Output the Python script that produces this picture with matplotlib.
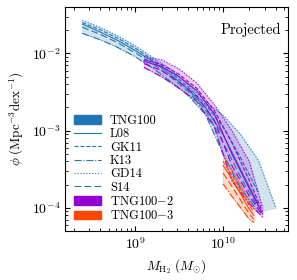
import numpy as np
import matplotlib
matplotlib.use("Agg")
import matplotlib.pyplot as plt
from matplotlib.patches import Patch
from matplotlib.lines import Line2D

plt.rcParams["font.family"] = "serif"
plt.rcParams["font.serif"] = ["cmr10", "DejaVu Serif"]
plt.rcParams["mathtext.fontset"] = "cm"
plt.rcParams["axes.formatter.use_mathtext"] = True

# log10 M_H2 grids and log10 phi per H2 model
models = ["L08", "GK11", "K13", "GD14", "S14"]
styles = ["-", "--", "-.", ":", (0, (6, 3))]

m_tng100 = [8.4, 8.6, 8.8, 9.0, 9.2, 9.4, 9.6, 9.8, 10.0, 10.2, 10.4, 10.6]
phi_tng100 = {
    "L08":  [-1.62, -1.72, -1.83, -1.96, -2.10, -2.27, -2.46, -2.70, -3.05, -3.50, -3.95, np.nan],
    "GK11": [-1.60, -1.69, -1.80, -1.93, -2.08, -2.24, -2.43, -2.66, -2.95, -3.35, -3.80, np.nan],
    "K13":  [-1.74, -1.82, -1.92, -2.04, -2.19, -2.36, -2.54, -2.79, -3.30, -3.75, -4.05, np.nan],
    "GD14": [-1.57, -1.66, -1.77, -1.90, -2.05, -2.20, -2.40, -2.62, -2.80, -3.05, -3.38, -4.00],
    "S14":  [-1.66, -1.75, -1.86, -1.99, -2.13, -2.30, -2.49, -2.73, -3.15, -3.60, -4.00, np.nan],
}

m_tng100_2 = [9.1, 9.3, 9.5, 9.7, 9.9, 10.1, 10.3, 10.45]
phi_tng100_2 = {
    "L08":  [-2.10, -2.17, -2.30, -2.48, -2.78, -3.30, -3.75, -4.08],
    "GK11": [-2.08, -2.14, -2.27, -2.45, -2.74, -3.15, -3.65, -4.05],
    "K13":  [-2.18, -2.30, -2.45, -2.62, -2.95, -3.65, -3.95, -4.12],
    "GD14": [-2.04, -2.08, -2.20, -2.38, -2.66, -3.00, -3.40, -4.00],
    "S14":  [-2.13, -2.22, -2.37, -2.55, -2.86, -3.45, -3.85, -4.10],
}

m_tng100_3 = [10.0, 10.1, 10.2, 10.3, 10.35]
phi_tng100_3 = {
    "L08":  [-3.45, -3.62, -3.82, -4.02, -4.10],
    "GK11": [-3.40, -3.57, -3.77, -3.97, -4.05],
    "K13":  [-3.69, -3.85, -4.00, -4.15, -4.19],
    "GD14": [-3.32, -3.50, -3.70, -3.92, -4.00],
    "S14":  [-3.55, -3.72, -3.90, -4.08, -4.15],
}

sims = [
    ("TNG100", m_tng100, phi_tng100, "#1f77b4"),
    (r"TNG100$-$2", m_tng100_2, phi_tng100_2, "#9400d3"),
    (r"TNG100$-$3", m_tng100_3, phi_tng100_3, "#ff4500"),
]

fig = plt.figure(figsize=(2.97, 2.80), dpi=100)
ax = fig.add_axes([0.219, 0.175, 0.751, 0.80])

for name, m, phi, col in sims:
    x = 10 ** np.array(m)
    arr = np.array([phi[k] for k in models])
    lo = 10 ** np.nanmin(arr, axis=0)
    hi = 10 ** np.nanmax(arr, axis=0)
    ax.fill_between(x, lo, hi, facecolor=col, alpha=0.2, edgecolor=col, lw=0.6)
    for k, ls in zip(models, styles):
        ax.plot(x, 10 ** np.array(phi[k]), color=col, ls=ls, lw=0.8)

ax.set_xscale("log")
ax.set_yscale("log")
ax.set_xlim(1.6e8, 5.5e10)
ax.set_ylim(5e-5, 4e-2)
ax.tick_params(which="both", direction="in", top=True, right=True, labelsize=10)
ax.set_xlabel(r"$M_{\rm H_2}\ (M_{\odot})$", fontsize=9.5)
ax.set_ylabel(r"$\phi\ (\mathrm{Mpc^{-3}dex^{-1}})$", fontsize=9.5)
ax.text(0.97, 0.93, "Projected", transform=ax.transAxes, ha="right", va="top", fontsize=10.5)

handles = [Patch(color="#1f77b4", label="TNG100")]
for k, ls in zip(models, styles):
    handles.append(Line2D([], [], color="#1f77b4", ls=ls, lw=0.8, label=k))
handles.append(Patch(color="#9400d3", label=r"TNG100$-$2"))
handles.append(Patch(color="#ff4500", label=r"TNG100$-$3"))
ax.legend(handles=handles, loc="lower left", frameon=False, fontsize=9,
          handlelength=2.2, labelspacing=0.1, borderaxespad=0.3, handletextpad=0.7)

fig.savefig("out.png", dpi=100)
